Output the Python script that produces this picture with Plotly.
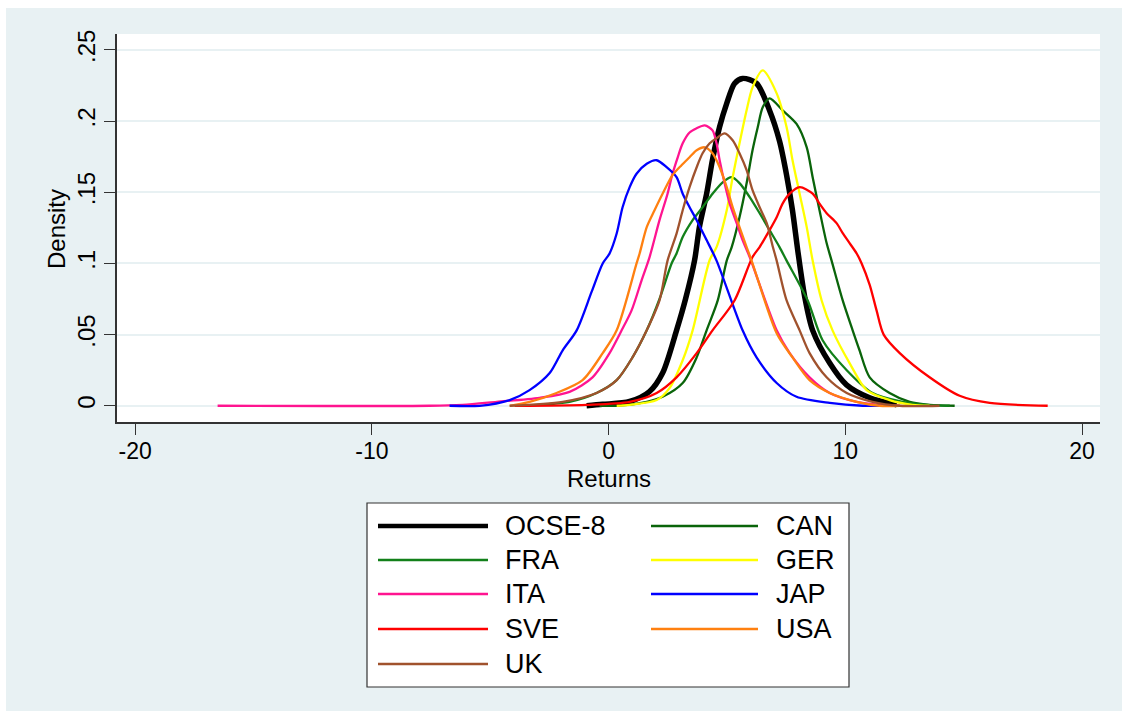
import plotly.graph_objects as go

# ---------------- data ----------------
series_names = ["OCSE-8", "CAN", "FRA", "GER", "ITA", "JAP", "SVE", "USA", "UK"]

ocse_x = [-0.93, -0.25, 0.89, 1.73, 2.28, 2.87, 3.25, 3.63, 3.84, 4.14, 4.39, 4.69, 4.99, 5.32, 5.66,
          6.25, 6.80, 7.22, 7.52, 7.77, 8.00, 8.28, 8.62, 9.34, 10.05, 11.03, 12.17]
ocse_y = [0.0, 0.001, 0.003, 0.010, 0.023, 0.053, 0.075, 0.102, 0.126, 0.149, 0.173, 0.196, 0.2125, 0.2265, 0.230,
          0.2265, 0.2075, 0.186, 0.162, 0.137, 0.108, 0.077, 0.053, 0.030, 0.0147, 0.0056, 0.0007]

can_x = [-0.38, 0.34, 1.61, 2.28, 3.13, 3.72, 4.14, 4.61, 4.99, 5.20, 5.53, 5.83, 6.08, 6.30, 6.51, 6.80,
         7.35, 7.94, 8.37, 8.62, 8.91, 9.21, 9.42, 9.89, 10.31, 10.60, 11.03, 11.87, 12.72, 13.56, 14.62]
can_y = [0.0, 0.0, 0.0028, 0.0063, 0.016, 0.034, 0.053, 0.074, 0.102, 0.1115, 0.1325, 0.1564, 0.1795, 0.1957, 0.2097, 0.216,
         0.2076, 0.198, 0.1816, 0.1606, 0.1374, 0.1143, 0.102, 0.074, 0.053, 0.039, 0.020, 0.009, 0.0028, 0.0007, 0.0]

fra_x = [-3.76, -1.65, -0.51, 0.34, 1.01, 1.61, 2.15, 2.66, 2.87, 3.13, 3.55, 3.97, 4.39, 4.82, 5.20,
         5.53, 5.96, 6.38, 6.80, 7.22, 7.52, 8.41, 9.04, 10.06, 11.15, 12.42, 13.44, 14.41]
fra_y = [0.0, 0.0028, 0.009, 0.018, 0.034, 0.053, 0.075, 0.100, 0.107, 0.1185, 0.1304, 0.1395, 0.149, 0.157, 0.1606,
         0.1564, 0.1466, 0.1353, 0.1234, 0.1115, 0.102, 0.074, 0.046, 0.025, 0.009, 0.0028, 0.0007, 0.0]

ger_x = [0.34, 0.89, 2.03, 2.58, 3.13, 3.55, 4.27, 4.56, 4.99, 5.24, 5.53, 5.83, 6.08, 6.51,
         7.10, 7.52, 7.77, 8.07, 8.37, 8.62, 9.00, 9.46, 10.18, 10.90, 11.87, 12.84, 13.56]
ger_y = [0.0, 0.0007, 0.004, 0.0126, 0.032, 0.053, 0.1024, 0.1115, 0.1374, 0.1606, 0.1844, 0.2076, 0.2237, 0.2356,
         0.2195, 0.1957, 0.1725, 0.149, 0.1255, 0.102, 0.074, 0.053, 0.030, 0.011, 0.004, 0.0007, 0.0]

ita_x = [-16.52, -7.56, -6.17, -4.73, -2.92, -1.65, -0.68, 0.04, 0.55, 0.97, 1.39, 1.73, 2.15, 2.49, 2.70, 2.92,
         3.13, 3.42, 3.72, 4.06, 4.39, 4.56, 4.69, 4.90, 5.11, 5.41, 5.66, 5.96, 7.10, 7.65, 8.49, 9.34,
         10.48, 11.45, 12.30]
ita_y = [0.0, 0.0, 0.0007, 0.0028, 0.0056, 0.0098, 0.020, 0.037, 0.053, 0.067, 0.088, 0.1045, 0.1304, 0.149, 0.163, 0.1746,
         0.1844, 0.192, 0.195, 0.197, 0.1935, 0.1844, 0.1725, 0.1564, 0.1424, 0.1283, 0.1164, 0.1045, 0.053, 0.037, 0.020, 0.009,
         0.0028, 0.0007, 0.0]

jap_x = [-6.72, -5.45, -4.18, -3.34, -2.49, -1.94, -1.35, -0.72, -0.25, 0.04, 0.34, 0.59, 0.89, 1.18, 1.61, 2.03,
         2.45, 2.87, 3.13, 3.42, 3.72, 4.14, 4.56, 5.66, 6.25, 7.10, 7.94, 9.34, 10.73, 11.45]
jap_y = [0.0, 0.0, 0.004, 0.011, 0.023, 0.039, 0.053, 0.080, 0.100, 0.107, 0.121, 0.1395, 0.1536, 0.163, 0.170, 0.1725,
         0.1676, 0.1606, 0.149, 0.1395, 0.1304, 0.1164, 0.102, 0.053, 0.034, 0.016, 0.0063, 0.002, 0.0, 0.0]

sve_x = [-3.97, -0.93, 0.89, 2.03, 2.87, 3.72, 4.39, 5.32, 6.08, 6.38, 6.80, 7.10, 7.35, 7.65, 8.07,
         8.62, 8.91, 9.21, 9.63, 9.89, 10.18, 10.48, 10.69, 11.03, 11.32, 11.62, 12.30, 13.56, 14.83, 16.10, 18.55]
sve_y = [0.0, 0.0007, 0.0028, 0.009, 0.020, 0.037, 0.053, 0.074, 0.1045, 0.1115, 0.1234, 0.1325, 0.142, 0.149, 0.1536,
         0.149, 0.142, 0.1353, 0.1283, 0.1213, 0.1143, 0.107, 0.100, 0.085, 0.067, 0.050, 0.037, 0.020, 0.007, 0.002, 0.0]

usa_x = [-4.18, -3.34, -2.20, -1.10, -0.25, 0.34, 1.18, 1.31, 1.61, 1.94, 2.28, 2.70, 3.08, 3.42, 3.72, 4.06,
         4.39, 4.69, 4.99, 5.24, 5.53, 5.83, 6.04, 7.10, 7.77, 8.49, 9.34, 10.48, 11.45, 12.30]
usa_y = [0.0, 0.0028, 0.009, 0.018, 0.037, 0.053, 0.100, 0.107, 0.1255, 0.1374, 0.149, 0.162, 0.169, 0.1746, 0.1795, 0.1816,
         0.1774, 0.1676, 0.1536, 0.1395, 0.1255, 0.1115, 0.102, 0.051, 0.034, 0.018, 0.009, 0.0028, 0.0, 0.0]

uk_x = [-4.18, -1.94, -0.51, 0.34, 1.01, 1.61, 2.15, 2.49, 2.87, 3.13, 3.42, 3.72, 3.97, 4.27, 4.56, 4.90,
        5.24, 5.53, 5.83, 6.08, 6.38, 6.68, 6.94, 7.10, 7.52, 8.07, 8.49, 9.21, 10.06, 11.15, 12.30, 13.98]
uk_y = [0.0, 0.0028, 0.009, 0.018, 0.034, 0.053, 0.074, 0.102, 0.121, 0.1374, 0.1536, 0.1676, 0.1774, 0.1844, 0.188, 0.1914,
        0.1865, 0.1774, 0.1655, 0.1515, 0.1395, 0.1283, 0.1115, 0.102, 0.074, 0.053, 0.037, 0.020, 0.009, 0.0028, 0.0, 0.0]

series_x = [ocse_x, can_x, fra_x, ger_x, ita_x, jap_x, sve_x, usa_x, uk_x]
series_y = [ocse_y, can_y, fra_y, ger_y, ita_y, jap_y, sve_y, usa_y, uk_y]

x_tick_vals = [-20, -10, 0, 10, 20]
x_tick_text = ["-20", "-10", "0", "10", "20"]
y_tick_vals = [0, 0.05, 0.1, 0.15, 0.2, 0.25]
y_tick_text = ["0", ".05", ".1", ".15", ".2", ".25"]
x_title = "Returns"
y_title = "Density"

# ---------------- styles ----------------
colors = ["#000000", "#0A640A", "#12801A", "#FFFF00", "#FF1490", "#0000FF", "#FF0000", "#FF8010", "#A0522D"]
widths = [5.5, 2.3, 2.3, 2.3, 2.3, 2.3, 2.3, 2.3, 2.3]
BG = "#E8F1F3"
FONT = "Liberation Sans, Arial, sans-serif"

W, H = 1122, 711
ML, MR, MT, MB = 117, 22, 34, 289
PW, PH = W - ML - MR, H - MT - MB


def px_x(p):
    return (p - ML) / PW


def px_y(p):
    return (H - MB - p) / PH


fig = go.Figure()
for name, xs, ys, c, w in zip(series_names, series_x, series_y, colors, widths):
    fig.add_trace(go.Scatter(x=xs, y=ys, mode="lines", name=name,
                             line=dict(color=c, width=w, shape="spline", smoothing=0.8),
                             showlegend=False, hoverinfo="skip"))

shapes = []
annotations = []
# white outer strips (top and left)
shapes.append(dict(type="rect", xref="paper", yref="paper", x0=px_x(0), x1=px_x(6), y0=px_y(0), y1=px_y(H),
                   fillcolor="white", line=dict(width=0), layer="below"))
shapes.append(dict(type="rect", xref="paper", yref="paper", x0=px_x(0), x1=px_x(W), y0=px_y(0), y1=px_y(8),
                   fillcolor="white", line=dict(width=0), layer="below"))

# legend box (two columns, row-major order)
shapes.append(dict(type="rect", xref="paper", yref="paper", x0=px_x(367), x1=px_x(849), y0=px_y(503), y1=px_y(687),
                   fillcolor="white", line=dict(color="#333333", width=1.2)))
row_y = [526, 560, 594, 629, 664]
col_line = [(378, 488), (651, 758)]
col_text = [503, 774]
for i, (name, c, w) in enumerate(zip(series_names, colors, widths)):
    r, col = divmod(i, 2)
    yy = px_y(row_y[r])
    x0, x1 = col_line[col]
    shapes.append(dict(type="line", xref="paper", yref="paper", x0=px_x(x0), x1=px_x(x1), y0=yy, y1=yy,
                       line=dict(color=c, width=4.5 if i == 0 else 2.3)))
    annotations.append(dict(x=px_x(col_text[col]), y=yy, xref="paper", yref="paper", text=name,
                            showarrow=False, xanchor="left", yanchor="middle",
                            font=dict(family=FONT, size=27, color="black")))

# axis titles
annotations.append(dict(x=px_x(609), y=px_y(479), xref="paper", yref="paper", text=x_title, showarrow=False,
                        xanchor="center", yanchor="middle", font=dict(family=FONT, size=24, color="black")))
annotations.append(dict(x=px_x(56), y=px_y(229), xref="paper", yref="paper", text=y_title, showarrow=False,
                        textangle=-90, xanchor="center", yanchor="middle",
                        font=dict(family=FONT, size=24, color="black")))

fig.update_layout(
    width=W, height=H,
    margin=dict(l=ML, r=MR, t=MT, b=MB, pad=0),
    paper_bgcolor=BG, plot_bgcolor="white",
    font=dict(family=FONT, color="black"),
    shapes=shapes, annotations=annotations,
    showlegend=False,
)
fig.update_xaxes(range=[-20.77, 20.76], tickvals=x_tick_vals, ticktext=x_tick_text,
                 showgrid=False, zeroline=False, showline=True, linecolor="#333333", linewidth=1.5,
                 ticks="outside", ticklen=11, tickwidth=1.2, tickcolor="#333333", ticklabelstandoff=-3,
                 tickfont=dict(family=FONT, size=23, color="black"))
fig.update_yaxes(range=[-0.0114, 0.2612], tickvals=y_tick_vals, ticktext=y_tick_text, tickangle=-90,
                 showgrid=True, gridcolor=BG, gridwidth=1.5, zeroline=False,
                 showline=True, linecolor="#333333", linewidth=1.5,
                 ticks="outside", ticklen=11, tickwidth=1.2, tickcolor="#333333",
                 tickfont=dict(family=FONT, size=24, color="black"))

fig.write_html("out.html")
